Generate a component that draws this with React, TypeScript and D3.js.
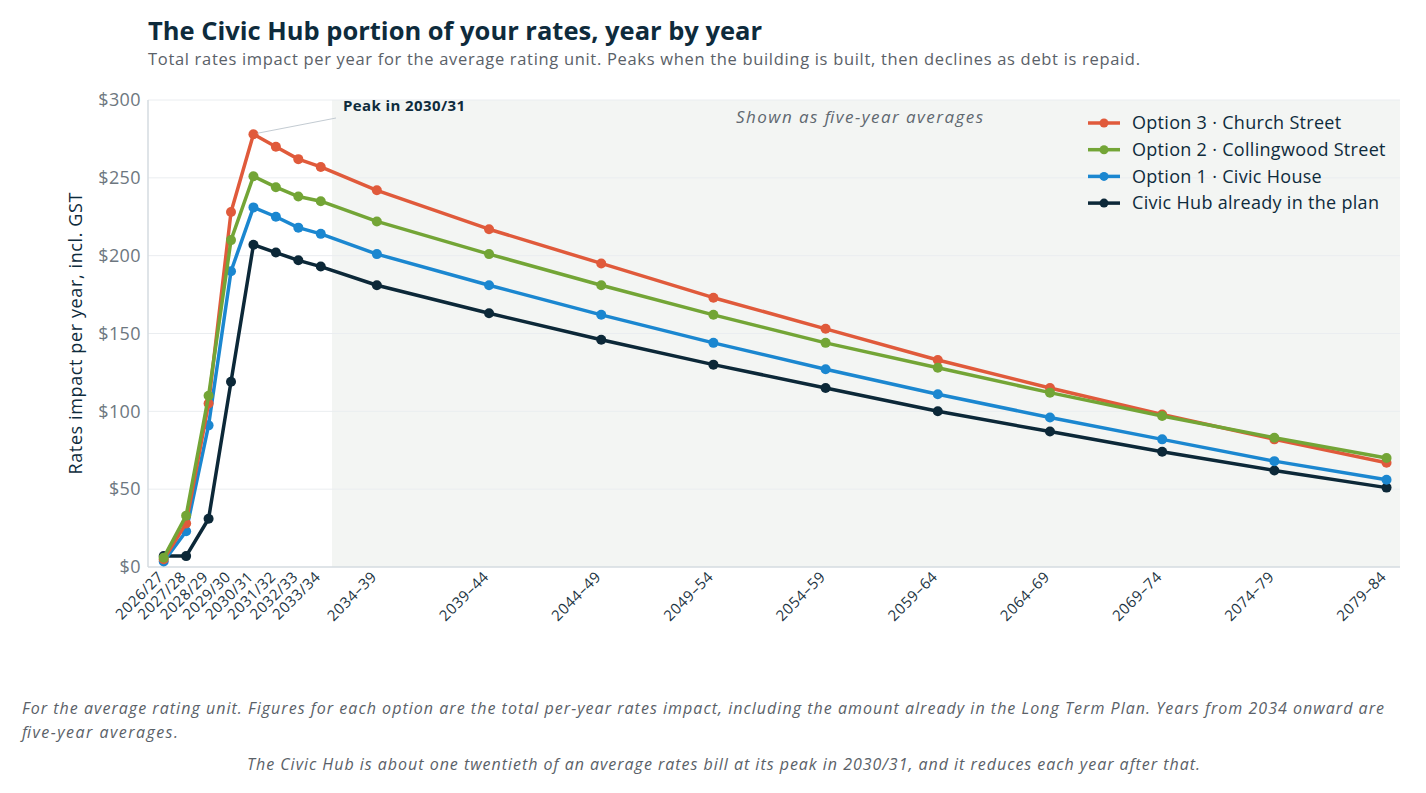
import * as d3 from "d3";
import { useEffect, useRef } from "react";

// x categories: yearly first, then five-year averages
const periods = [
  "2026/27", "2027/28", "2028/29", "2029/30", "2030/31", "2031/32", "2032/33", "2033/34",
  "2034–39", "2039–44", "2044–49", "2049–54", "2054–59", "2059–64", "2064–69", "2069–74", "2074–79", "2079–84",
];
// position on a year-like axis (yearly = 1 unit, five-year blocks = 5 units)
const periodPos = [0, 1, 2, 3, 4, 5, 6, 7, 9.5, 14.5, 19.5, 24.5, 29.5, 34.5, 39.5, 44.5, 49.5, 54.5];

const option3 = [5, 28, 105, 228, 278, 270, 262, 257, 242, 217, 195, 173, 153, 133, 115, 98, 82, 67];
const option2 = [6, 33, 110, 210, 251, 244, 238, 235, 222, 201, 181, 162, 144, 128, 112, 97, 83, 70];
const option1 = [3.5, 23, 91, 190, 231, 225, 218, 214, 201, 181, 162, 144, 127, 111, 96, 82, 68, 56];
const inPlan = [7, 7, 31, 119, 207, 202, 197, 193, 181, 163, 146, 130, 115, 100, 87, 74, 62, 51];

const seriesNames = [
  "Option 3 · Church Street",
  "Option 2 · Collingwood Street",
  "Option 1 · Civic House",
  "Civic Hub already in the plan",
];
const seriesColors = ["#e05a3b", "#73a536", "#1b87d0", "#0c2838"];
const yTicks = [0, 50, 100, 150, 200, 250, 300];

const FONT = "'Open Sans', 'Noto Sans', sans-serif";

export default function App() {
  const svgRef = useRef<SVGSVGElement>(null);
  const width = 1426;
  const height = 793;

  useEffect(() => {
    const svg = d3.select(svgRef.current);
    svg.selectAll("*").remove();
    svg.attr("viewBox", `0 0 ${width} ${height}`).attr("width", width).attr("height", height);

    const left = 148, right = 1400, top = 100, bottom = 567;
    const x = d3.scaleLinear().domain([-0.7, 55.1]).range([left, right]);
    const y = d3.scaleLinear().domain([0, 300]).range([bottom, top]);

    svg.append("rect").attr("width", width).attr("height", height).attr("fill", "#fff");

    // title + subtitle
    svg.append("text")
      .attr("x", 148).attr("y", 40)
      .attr("font-family", FONT).attr("font-weight", 700).attr("font-size", 25.5)
      .attr("fill", "#0e2b3c")
      .text("The Civic Hub portion of your rates, year by year");
    svg.append("text")
      .attr("x", 148).attr("y", 65)
      .attr("font-family", FONT).attr("font-size", 16.5)
      .attr("textLength", 992).attr("lengthAdjust", "spacing")
      .attr("fill", "#5a6168")
      .text("Total rates impact per year for the average rating unit. Peaks when the building is built, then declines as debt is repaid.");

    // shaded five-year region
    svg.append("rect")
      .attr("x", x(7.5)).attr("y", top)
      .attr("width", right - x(7.5)).attr("height", bottom - top)
      .attr("fill", "#f3f5f3");

    // gridlines
    svg.append("g").selectAll("line").data(yTicks.slice(1)).enter().append("line")
      .attr("x1", left).attr("x2", right)
      .attr("y1", d => y(d)).attr("y2", d => y(d))
      .attr("stroke", "#eaedf0").attr("stroke-width", 1);

    // axis lines
    svg.append("line").attr("x1", left).attr("x2", left).attr("y1", top).attr("y2", bottom)
      .attr("stroke", "#d5dbe0").attr("stroke-width", 1.5);
    svg.append("line").attr("x1", left).attr("x2", right).attr("y1", bottom).attr("y2", bottom)
      .attr("stroke", "#d5dbe0").attr("stroke-width", 1.5);

    // y tick labels
    svg.append("g").selectAll("text").data(yTicks).enter().append("text")
      .attr("x", 141).attr("y", d => y(d)).attr("dy", "0.35em")
      .attr("text-anchor", "end")
      .attr("font-family", FONT).attr("font-size", 18).attr("letter-spacing", 0.4)
      .attr("fill", "#6d7780")
      .text(d => `$${d}`);

    // y title
    svg.append("text")
      .attr("transform", `translate(82,${(top + bottom) / 2}) rotate(-90)`)
      .attr("text-anchor", "middle")
      .attr("font-family", FONT).attr("font-size", 18).attr("fill", "#0e2b3c")
      .attr("textLength", 282).attr("lengthAdjust", "spacing")
      .text("Rates impact per year, incl. GST");

    // x tick labels
    svg.append("g").selectAll("text").data(periods).enter().append("text")
      .attr("transform", (d, i) => `translate(${x(periodPos[i]) - 3},574) rotate(-45)`)
      .attr("text-anchor", "end")
      .attr("dy", "0.35em")
      .attr("font-family", FONT).attr("font-size", 15).attr("letter-spacing", 0.5)
      .attr("fill", "#1c3442")
      .text(d => d);

    // "Shown as five-year averages"
    svg.append("text")
      .attr("x", 736).attr("y", 123)
      .attr("font-family", FONT).attr("font-style", "italic").attr("font-size", 17)
      .attr("textLength", 247).attr("lengthAdjust", "spacing")
      .attr("fill", "#5f6870")
      .text("Shown as five-year averages");

    // series lines
    const allSeries = [option3, option2, option1, inPlan];
    const line = d3.line<number>().x((d, i) => x(periodPos[i])).y(d => y(d));
    const order = [3, 2, 0, 1];
    order.forEach(si => {
      const g = svg.append("g");
      g.append("path")
        .attr("d", line(allSeries[si]))
        .attr("fill", "none")
        .attr("stroke", seriesColors[si])
        .attr("stroke-width", 3.5)
        .attr("stroke-linejoin", "round");
      g.selectAll("circle").data(allSeries[si]).enter().append("circle")
        .attr("cx", (d, i) => x(periodPos[i]))
        .attr("cy", d => y(d))
        .attr("r", 5)
        .attr("fill", seriesColors[si]);
    });

    // peak annotation
    const peakX = x(periodPos[4]);
    const peakY = y(option3[4]);
    svg.append("line")
      .attr("x1", peakX + 4).attr("y1", peakY - 1)
      .attr("x2", 336).attr("y2", 118)
      .attr("stroke", "#c3cbd2").attr("stroke-width", 1);
    svg.append("text")
      .attr("x", 343).attr("y", 111)
      .attr("font-family", FONT).attr("font-weight", 700).attr("font-size", 15)
      .attr("letter-spacing", 0.4)
      .attr("fill", "#0e2b3c")
      .text("Peak in 2030/31");

    // legend
    const legend = svg.append("g");
    seriesNames.forEach((name, i) => {
      const ly = 123 + i * 26.7;
      legend.append("line")
        .attr("x1", 1088).attr("x2", 1120).attr("y1", ly).attr("y2", ly)
        .attr("stroke", seriesColors[i]).attr("stroke-width", 3.5);
      legend.append("circle").attr("cx", 1104).attr("cy", ly).attr("r", 4.5).attr("fill", seriesColors[i]);
      legend.append("text")
        .attr("x", 1132).attr("y", ly).attr("dy", "0.35em")
        .attr("font-family", FONT).attr("font-size", 18).attr("letter-spacing", 0.3)
        .attr("fill", "#0e2b3c")
        .text(name);
    });

    // footer notes
    const foot = svg.append("g")
      .attr("font-family", FONT).attr("font-style", "italic").attr("font-size", 16)
      .attr("fill", "#5a6168");
    foot.append("text").attr("x", 22).attr("y", 714)
      .attr("textLength", 1362).attr("lengthAdjust", "spacing")
      .text("For the average rating unit. Figures for each option are the total per-year rates impact, including the amount already in the Long Term Plan. Years from 2034 onward are");
    foot.append("text").attr("x", 22).attr("y", 738)
      .attr("textLength", 156).attr("lengthAdjust", "spacing")
      .text("five-year averages.");
    foot.append("text").attr("x", 247).attr("y", 770)
      .attr("textLength", 953).attr("lengthAdjust", "spacing")
      .text("The Civic Hub is about one twentieth of an average rates bill at its peak in 2030/31, and it reduces each year after that.");

    return () => {};
  }, []);

  return (
    <div style={{ position: "fixed", left: 0, top: 0, width, height, background: "#fff" }}>
      <svg ref={svgRef} style={{ display: "block" }}></svg>
    </div>
  );
}
